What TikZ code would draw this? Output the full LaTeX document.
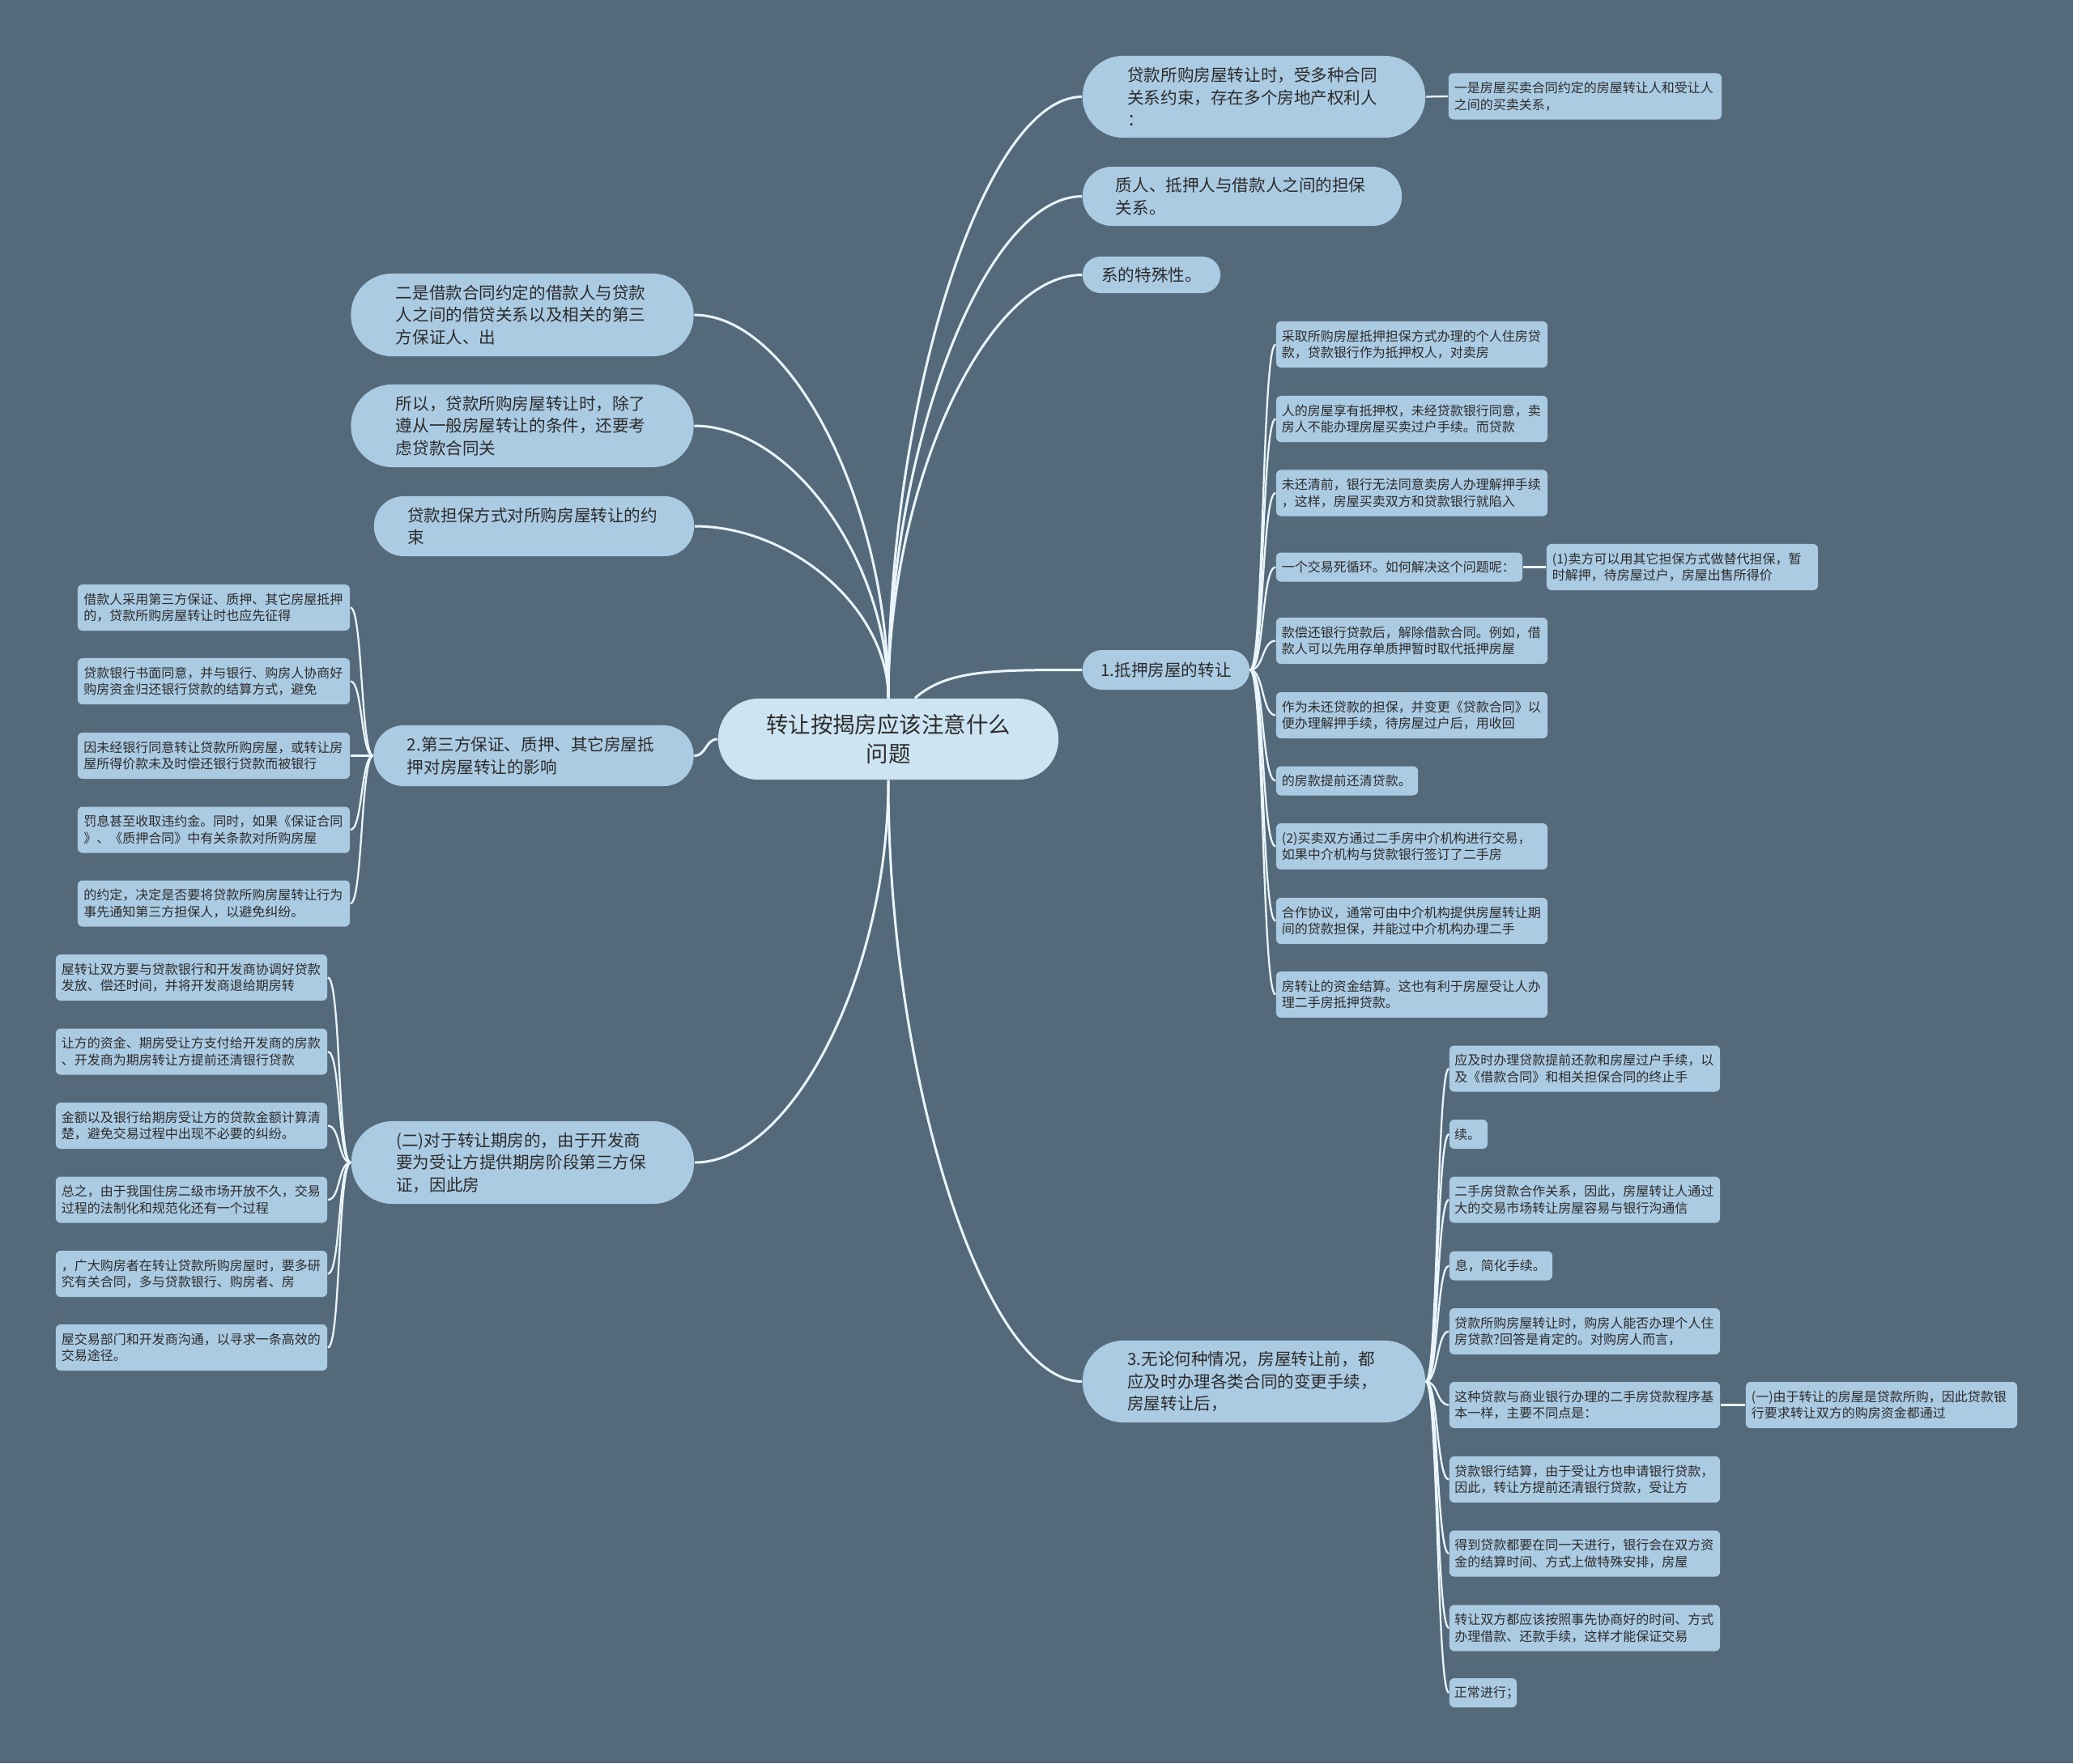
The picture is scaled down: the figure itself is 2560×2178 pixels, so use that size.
\documentclass[tikz,border=0pt]{standalone}
\usepackage{fontspec}
\setmainfont{Noto Sans CJK SC}
\definecolor{bg}{HTML}{546A7B}
\definecolor{nodefill}{HTML}{ABCBE3}
\definecolor{rootfill}{HTML}{CDE4F2}
\definecolor{txt}{HTML}{2B2B2B}
\definecolor{linec}{HTML}{EAF5FB}
\pgfdeclarelayer{back}
\pgfdeclarelayer{edges}
\pgfsetlayers{back,edges,main}
\begin{document}
\begin{tikzpicture}[x=0.01cm,y=-0.01cm,
  rootnode/.style={fill=rootfill, text=txt, inner sep=0pt, rounded corners=0.495cm,
    minimum width=4.2cm, minimum height=1cm, align=center,
    font=\fontsize{7.8pt}{10.2pt}\selectfont},
  pill/.style={fill=nodefill, text=txt, inner sep=0pt, align=left,
    font=\fontsize{5.85pt}{7.8pt}\selectfont},
  bigpill/.style={pill, minimum width=4.23cm, minimum height=1.01cm,
    rounded corners=0.5cm, text width=3.12cm},
  midpill/.style={pill, minimum width=3.95cm, minimum height=0.74cm,
    rounded corners=0.365cm, text width=3.12cm},
  leaf/.style={fill=nodefill, text=txt, inner sep=0pt, rounded corners=0.06cm,
    align=left, font=\fontsize{4.55pt}{5.8pt}\selectfont},
  leaftwo/.style={leaf, minimum width=3.35cm, minimum height=0.57cm, text width=3.21cm},
  leafone/.style={leaf, minimum height=0.36cm},
  link/.style={draw=linec, line width=0.85pt},
  sublink/.style={draw=linec, line width=0.65pt}]

\begin{pgfonlayer}{back}
\fill[bg] (0,0) rectangle (2560,2178);
\end{pgfonlayer}
\useasboundingbox (0,0) rectangle (2560,2178);

% root
\node[rootnode] (root) at (1097,913) {转让按揭房应该注意什么\\问题};

% right side
\node[bigpill] (r1) at (1548.5,119.5) {贷款所购房屋转让时，受多种合同\\关系约束，存在多个房地产权利人\\：};
\node[leaftwo, minimum width=3.37cm, text width=3.23cm] (r1a) at (1957.5,119) {一是房屋买卖合同约定的房屋转让人和受让人\\之间的买卖关系，};
\node[pill, minimum width=3.94cm, minimum height=0.73cm, rounded corners=0.36cm, text width=3.12cm] (r2) at (1534,242.5) {质人、抵押人与借款人之间的担保\\关系。};
\node[pill, minimum width=1.70cm, minimum height=0.45cm, rounded corners=0.22cm] (r3) at (1422,339.5) {系的特殊性。};
\node[pill, minimum width=2.06cm, minimum height=0.49cm, rounded corners=0.24cm] (r4) at (1440,827.5) {1.抵押房屋的转让};

\node[leaftwo] (l1) at (1743.5,425.5) {采取所购房屋抵押担保方式办理的个人住房贷\\款，贷款银行作为抵押权人，对卖房};
\node[leaftwo] (l2) at (1743.5,517.5) {人的房屋享有抵押权，未经贷款银行同意，卖\\房人不能办理房屋买卖过户手续。而贷款};
\node[leaftwo] (l3) at (1743.5,609) {未还清前，银行无法同意卖房人办理解押手续\\，这样，房屋买卖双方和贷款银行就陷入};
\node[leafone, minimum width=3.04cm, text width=2.9cm] (l4) at (1728,700.5) {一个交易死循环。如何解决这个问题呢：};
\node[leaftwo] (l4c) at (2077.5,700.5) {(1)卖方可以用其它担保方式做替代担保，暂\\时解押，待房屋过户，房屋出售所得价};
\node[leaftwo] (l5) at (1743.5,791.5) {款偿还银行贷款后，解除借款合同。例如，借\\款人可以先用存单质押暂时取代抵押房屋};
\node[leaftwo] (l6) at (1743.5,883.5) {作为未还贷款的担保，并变更《贷款合同》以\\便办理解押手续，待房屋过户后，用收回};
\node[leafone, minimum width=1.75cm, text width=1.61cm] (l7) at (1663.5,964.5) {的房款提前还清贷款。};
\node[leaftwo] (l8) at (1743.5,1045.5) {(2)买卖双方通过二手房中介机构进行交易，\\如果中介机构与贷款银行签订了二手房};
\node[leaftwo] (l9) at (1743.5,1137.5) {合作协议，通常可由中介机构提供房屋转让期\\间的贷款担保，并能过中介机构办理二手};
\node[leaftwo] (l10) at (1743.5,1228.5) {房转让的资金结算。这也有利于房屋受让人办\\理二手房抵押贷款。};

\node[bigpill] (r5) at (1548.5,1706.5) {3.无论何种情况，房屋转让前，都\\应及时办理各类合同的变更手续，\\房屋转让后，};
\node[leaftwo, minimum width=3.34cm] (m1) at (1957,1320) {应及时办理贷款提前还款和房屋过户手续，以\\及《借款合同》和相关担保合同的终止手};
\node[leafone, minimum width=0.47cm, text width=0.35cm] (m2) at (1813.5,1401) {续。};
\node[leaftwo, minimum width=3.34cm] (m3) at (1957,1482) {二手房贷款合作关系，因此，房屋转让人通过\\大的交易市场转让房屋容易与银行沟通信};
\node[leafone, minimum width=1.27cm, text width=1.13cm] (m4) at (1853.5,1563.5) {息，简化手续。};
\node[leaftwo, minimum width=3.34cm] (m5) at (1957,1644.5) {贷款所购房屋转让时，购房人能否办理个人住\\房贷款?回答是肯定的。对购房人而言，};
\node[leaftwo, minimum width=3.34cm] (m6) at (1957,1735.5) {这种贷款与商业银行办理的二手房贷款程序基\\本一样，主要不同点是：};
\node[leaftwo] (m6c) at (2323.5,1735.5) {(一)由于转让的房屋是贷款所购，因此贷款银\\行要求转让双方的购房资金都通过};
\node[leaftwo, minimum width=3.34cm] (m7) at (1957,1827.5) {贷款银行结算，由于受让方也申请银行贷款，\\因此，转让方提前还清银行贷款，受让方};
\node[leaftwo, minimum width=3.34cm] (m8) at (1957,1919) {得到贷款都要在同一天进行，银行会在双方资\\金的结算时间、方式上做特殊安排，房屋};
\node[leaftwo, minimum width=3.34cm] (m9) at (1957,2011) {转让双方都应该按照事先协商好的时间、方式\\办理借款、还款手续，这样才能保证交易};
\node[leafone, minimum width=0.83cm, text width=0.71cm] (m10) at (1831.5,2091) {正常进行；};

% left side
\node[bigpill, minimum height=1.02cm, rounded corners=0.505cm] (k1) at (645,389) {二是借款合同约定的借款人与贷款\\人之间的借贷关系以及相关的第三\\方保证人、出};
\node[bigpill, minimum height=1.02cm, rounded corners=0.505cm] (k2) at (645,526) {所以，贷款所购房屋转让时，除了\\遵从一般房屋转让的条件，还要考\\虑贷款合同关};
\node[midpill] (k3) at (659.5,650) {贷款担保方式对所购房屋转让的约\\束};
\node[midpill, minimum height=0.75cm, rounded corners=0.37cm] (k4) at (659,933.5) {2.第三方保证、质押、其它房屋抵\\押对房屋转让的影响};

\node[leaftwo, minimum width=3.36cm] (a1) at (264,750.5) {借款人采用第三方保证、质押、其它房屋抵押\\的，贷款所购房屋转让时也应先征得};
\node[leaftwo, minimum width=3.36cm] (a2) at (264,841.5) {贷款银行书面同意，并与银行、购房人协商好\\购房资金归还银行贷款的结算方式，避免};
\node[leaftwo, minimum width=3.36cm] (a3) at (264,933.5) {因未经银行同意转让贷款所购房屋，或转让房\\屋所得价款未及时偿还银行贷款而被银行};
\node[leaftwo, minimum width=3.36cm] (a4) at (264,1025) {罚息甚至收取违约金。同时，如果《保证合同\\》、《质押合同》中有关条款对所购房屋};
\node[leaftwo, minimum width=3.36cm] (a5) at (264,1116) {的约定，决定是否要将贷款所购房屋转让行为\\事先通知第三方担保人，以避免纠纷。};

\node[bigpill, minimum height=1.02cm, rounded corners=0.505cm] (k5) at (645.5,1436) {(二)对于转让期房的，由于开发商\\要为受让方提供期房阶段第三方保\\证，因此房};
\node[leaftwo] (b1) at (236.5,1207.5) {屋转让双方要与贷款银行和开发商协调好贷款\\发放、偿还时间，并将开发商退给期房转};
\node[leaftwo] (b2) at (236.5,1299) {让方的资金、期房受让方支付给开发商的房款\\、开发商为期房转让方提前还清银行贷款};
\node[leaftwo] (b3) at (236.5,1390.5) {金额以及银行给期房受让方的贷款金额计算清\\楚，避免交易过程中出现不必要的纠纷。};
\node[leaftwo] (b4) at (236.5,1482) {总之，由于我国住房二级市场开放不久，交易\\过程的法制化和规范化还有一个过程};
\node[leaftwo] (b5) at (236.5,1573.5) {，广大购房者在转让贷款所购房屋时，要多研\\究有关合同，多与贷款银行、购房者、房};
\node[leaftwo] (b6) at (236.5,1664.5) {屋交易部门和开发商沟通，以寻求一条高效的\\交易途径。};

% connectors
\begin{pgfonlayer}{edges}
\draw[link] (root.north) .. controls +(0,-370) and +(-120,0) .. (r1.west);
\draw[link] (root.north) .. controls +(0,-310) and +(-120,0) .. (r2.west);
\draw[link] (root.north) .. controls +(0,-260) and +(-120,0) .. (r3.west);
\draw[link] (root.57) .. controls +(40,-35) and +(-110,0) .. (r4.west);
\draw[link] (root.south) .. controls +(0,370) and +(-120,0) .. (r5.west);
\draw[link] (root.north) .. controls +(0,-240) and +(120,0) .. (k1.east);
\draw[link] (root.north) .. controls +(0,-170) and +(120,0) .. (k2.east);
\draw[link] (root.north) .. controls +(0,-110) and +(120,0) .. (k3.east);
\draw[link] (root.west) .. controls +(-15,0) and +(15,0) .. (k4.east);
\draw[link] (root.south) .. controls +(0,240) and +(120,0) .. (k5.east);

\draw[sublink] (r1.east) -- (r1a.west);
\draw[sublink] (l4.east) -- (l4c.west);
\draw[sublink] (m6.east) -- (m6c.west);

\foreach \n in {l1,l2,l3,l4,l5,l6,l7,l8,l9,l10}
  \draw[sublink] (r4.east) .. controls +(17,0) and +(-17,0) .. (\n.west);
\foreach \n in {m1,m2,m3,m4,m5,m6,m7,m8,m9,m10}
  \draw[sublink] (r5.east) .. controls +(15,0) and +(-15,0) .. (\n.west);
\foreach \n in {a1,a2,a3,a4,a5}
  \draw[sublink] (k4.west) .. controls +(-15,0) and +(15,0) .. (\n.east);
\foreach \n in {b1,b2,b3,b4,b5,b6}
  \draw[sublink] (k5.west) .. controls +(-16,0) and +(16,0) .. (\n.east);
\end{pgfonlayer}
\end{tikzpicture}
\end{document}
